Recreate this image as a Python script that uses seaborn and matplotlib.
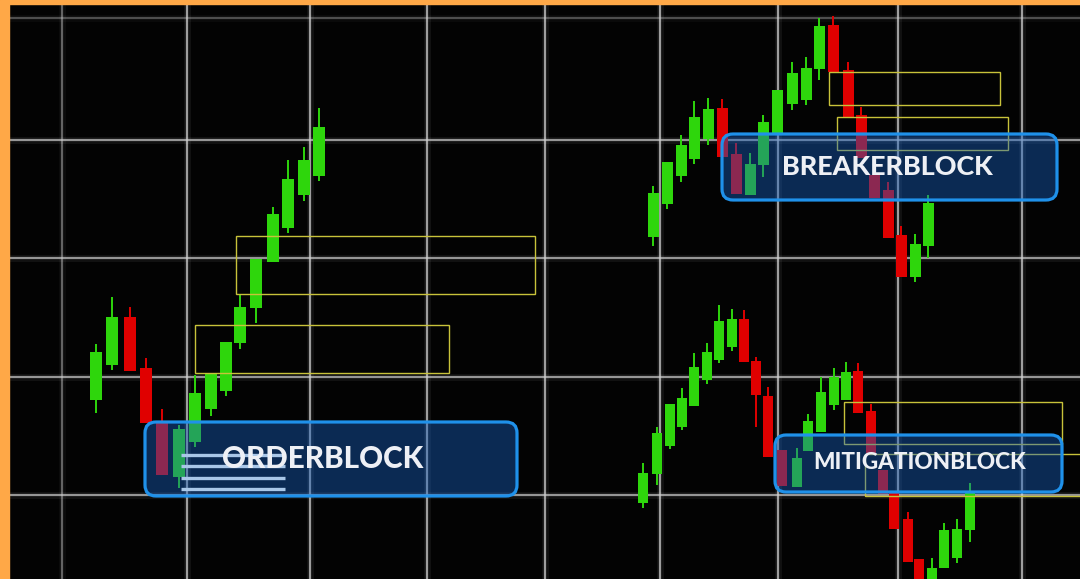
import matplotlib
matplotlib.use("Agg")
import matplotlib.pyplot as plt
from matplotlib.patches import FancyBboxPatch, Rectangle
import seaborn as sns
import numpy as np

# ---------------- data (price levels) ----------------
# group 1 : orderblock rally
g1_x     = [96, 112, 130, 146, 162, 179, 195, 211, 226, 240, 256, 273, 288, 304, 319]
g1_open  = [179, 214, 262, 211, 156, 102, 137, 170, 188, 236, 271, 317, 351, 384, 403]
g1_close = [227, 262, 208, 156, 104, 150, 186, 205, 237, 272, 320, 365, 400, 419, 452]
g1_high  = [235, 282, 272, 221, 170, 154, 204, 205, 237, 284, 320, 372, 419, 432, 471]
g1_low   = [166, 209, 208, 156, 104, 91, 132, 163, 183, 230, 256, 317, 346, 378, 398]

# group 2 : breaker block
g2_x     = [653, 667, 681, 694, 708, 722, 736, 750, 763, 777, 792, 806, 819, 833,
            848, 861, 874, 888, 901, 915, 928]
g2_open  = [342, 375, 403, 420, 440, 471, 425, 384, 414, 446, 475, 479, 510, 554,
            509, 464, 404, 389, 344, 302, 333]
g2_close = [386, 417, 434, 462, 470, 422, 385, 415, 457, 489, 506, 511, 553, 507,
            461, 421, 381, 341, 302, 335, 376]
g2_high  = [393, 417, 444, 478, 481, 480, 436, 426, 464, 489, 517, 522, 561, 563,
            517, 472, 404, 397, 353, 345, 384]
g2_low   = [333, 370, 397, 415, 434, 422, 385, 384, 402, 446, 469, 474, 499, 507,
            461, 421, 381, 341, 302, 297, 321]

# group 3 : mitigation block
g3_x     = [643, 657, 670, 682, 694, 707, 719, 732, 744, 756, 768, 782, 797, 808,
            821, 834, 846, 858, 871, 883, 894, 908, 919, 932, 944, 957, 970]
g3_open  = [76, 105, 133, 152, 173, 199, 219, 232, 260, 218, 183, 129, 92, 128,
            147, 174, 179, 208, 168, 109, 86, 60, 20, -5, 11, 21, 49]
g3_close = [106, 146, 175, 181, 212, 227, 258, 260, 217, 184, 122, 93, 121, 158,
            187, 202, 207, 166, 126, 85, 50, 17, -5, 11, 49, 50, 87]
g3_high  = [116, 152, 175, 191, 226, 236, 274, 270, 269, 222, 192, 129, 131, 165,
            202, 211, 217, 216, 175, 109, 86, 67, 20, 21, 56, 60, 96]
g3_low   = [71, 94, 130, 149, 173, 195, 216, 228, 217, 152, 122, 93, 92, 128,
            147, 169, 179, 166, 126, 85, 50, 17, -5, -5, 11, 16, 37]

# yellow zones: (x start, x end, price low, price high)
zone_x0 = [236, 195, 829, 837, 844, 865]
zone_x1 = [535, 449, 1000, 1008, 1062, 1085]
zone_lo = [285, 206, 474, 429, 135, 83]
zone_hi = [343, 254, 507, 462, 177, 125]

# labels
label_text = ["ORDERBLOCK", "BREAKERBLOCK", "MITIGATIONBLOCK"]
label_box_x0 = [145, 722, 775]
label_box_x1 = [517, 1057, 1062]
label_box_lo = [83, 379, 87]
label_box_hi = [157, 445, 144]
label_tx = [222, 782, 813]
label_ty = [111, 404, 110]
label_fs = [21.3, 19.4, 16.2]

# decorative stripes in the orderblock label
stripe_y = [124, 113, 101, 90]
stripe_x0, stripe_x1 = 181, 285

# background grid
grid_x = [62, 187, 310, 427, 545, 660, 778, 898, 1022]
grid_y = [561, 439, 321, 202, 84]

W, H = 1080, 579
GREEN = "#2ed60c"
RED = "#e00000"

sns.set_theme(style="dark", rc={"axes.facecolor": "#030303",
                                "figure.facecolor": "#030303"})
plt.rcParams["font.family"] = ["Lato", "DejaVu Sans"]

fig, ax = plt.subplots(figsize=(10.8, 5.79), dpi=100)
ax.set_position([0, 0, 1, 1])
ax.set_xlim(0, W)
ax.set_ylim(0, H)
ax.axis("off")
fig.patch.set_facecolor("#030303")
ax.add_patch(Rectangle((0, 0), W, H, color="#030303", zorder=0))

# grid with glow
for i, gx in enumerate(grid_x):
    a = 0.45 if i == 0 else 0.75
    ax.axvline(gx, color="#ffffff", lw=5, alpha=0.06 * a / 0.75, zorder=1)
    ax.axvline(gx, color="#cfcfcf", lw=1.6, alpha=a, zorder=1)
for j, gy in enumerate(grid_y):
    a = 0.35 if j == 0 else 0.7
    ax.axhline(gy, color="#ffffff", lw=5, alpha=0.06 * a / 0.7, zorder=1)
    ax.axhline(gy, color="#cfcfcf", lw=1.6, alpha=a, zorder=1)

# candles
def candles(xs, op, cl, hi, lo, width):
    op, cl = np.array(op), np.array(cl)
    cols = [GREEN if c >= o else RED for o, c in zip(op, cl)]
    ax.vlines(xs, lo, hi, colors=cols, lw=1.4, zorder=3)
    ax.bar(xs, np.abs(cl - op), bottom=np.minimum(op, cl), width=width,
           color=cols, edgecolor="none", zorder=4)

candles(g1_x, g1_open, g1_close, g1_high, g1_low, 12)
candles(g2_x, g2_open, g2_close, g2_high, g2_low, 11)
candles(g3_x, g3_open, g3_close, g3_high, g3_low, 10)

# yellow zones
for x0, x1, lo, hi in zip(zone_x0, zone_x1, zone_lo, zone_hi):
    ax.add_patch(Rectangle((x0, lo), x1 - x0, hi - lo, fill=False,
                           edgecolor="#c8c23a", lw=1.0, zorder=5))

# label boxes
for k in range(3):
    x0, x1 = label_box_x0[k], label_box_x1[k]
    lo, hi = label_box_lo[k], label_box_hi[k]
    ax.add_patch(FancyBboxPatch((x0, lo), x1 - x0, hi - lo,
                                boxstyle="round,pad=0,rounding_size=11",
                                facecolor=(0.09, 0.38, 0.76, 0.42),
                                edgecolor="#1f91ea", lw=2.3, zorder=6))

for sy in stripe_y:
    ax.plot([stripe_x0, stripe_x1], [sy, sy], color="#a9c7e8", lw=2.4,
            solid_capstyle="butt", zorder=7)

for k in range(3):
    ax.text(label_tx[k], label_ty[k], label_text[k], ha="left", va="baseline",
            fontsize=label_fs[k], fontweight="black", color="#eef0f5", zorder=8)

# orange frame
fig.patches.append(Rectangle((0, 0), 9 / W, 1, transform=fig.transFigure,
                             color="#ffa847", zorder=10))
fig.patches.append(Rectangle((0, 1 - 4 / H), 1, 4 / H, transform=fig.transFigure,
                             color="#ffa847", zorder=10))

fig.savefig("out.png", dpi=100, facecolor=fig.get_facecolor())
